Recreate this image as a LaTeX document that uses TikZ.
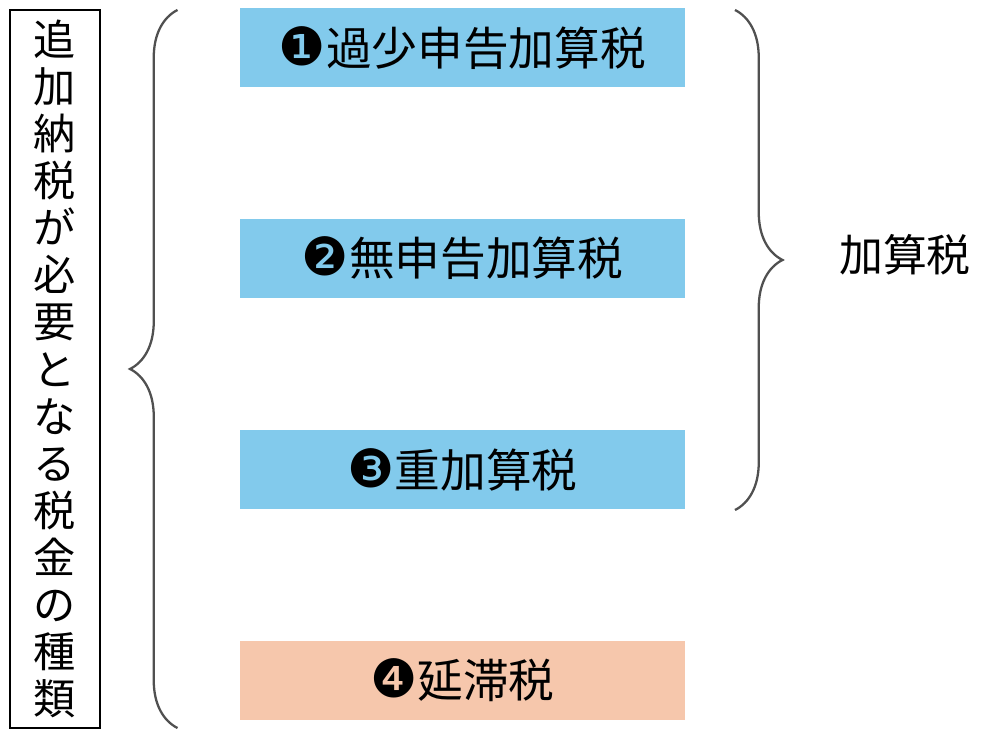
\documentclass[tikz,border=0pt]{standalone}
\usepackage{fontspec}
\setmainfont{Noto Sans CJK JP}
\newfontfamily\numfont{DejaVu Sans}
\usetikzlibrary{positioning,decorations.pathreplacing}
\definecolor{kasanblue}{RGB}{130,202,236}
\definecolor{entaipink}{RGB}{246,199,172}
\definecolor{bracegray}{RGB}{80,80,80}
\newcommand{\circnum}[1]{{\numfont\fontsize{30}{30}\selectfont #1}}

\begin{document}
\begin{tikzpicture}
    \tikzstyle{taxbox} = [rectangle, minimum width=8.9cm, minimum height=1.58cm, text centered, font=\fontsize{26}{28}\selectfont]
    \tikzstyle{bigbrace} = [draw=bracegray, line width=1.3pt, decorate, decoration={brace, amplitude=0.95cm, aspect=0.5}]
    \useasboundingbox (0,0) rectangle (20,-14.82);

    % Title box
    \node [draw, line width=1.5pt, minimum width=1.8cm, minimum height=14.36cm, align=center,
           font=\fontsize{24}{26.8}\selectfont] (title) at (1.1,-7.38)
          {追\\加\\納\\税\\が\\必\\要\\と\\な\\る\\税\\金\\の\\種\\類};

    % Tax kinds
    \node [taxbox, fill=kasanblue] (kashou) at (9.25,-0.96) {\circnum{❶}過少申告加算税};
    \node [taxbox, fill=kasanblue] (mushin) at (9.25,-5.17) {\circnum{❷}無申告加算税};
    \node [taxbox, fill=kasanblue] (juka) at (9.25,-9.39) {\circnum{❸}重加算税};
    \node [taxbox, fill=entaipink] (entai) at (9.25,-13.61) {\circnum{❹}延滞税};

    % Braces
    \coordinate (lbot) at (3.55,-14.56);
    \coordinate (ltop) at (3.55,-0.2);
    \draw [bigbrace] (lbot) -- (ltop);
    \coordinate (rtop) at (14.7,-0.2);
    \coordinate (rbot) at (14.7,-10.2);
    \draw [bigbrace] (rtop) -- (rbot);
    \node [font=\fontsize{25}{28}\selectfont] (kasan) at (18.1,-5.1) {加算税};
\end{tikzpicture}
\end{document}
